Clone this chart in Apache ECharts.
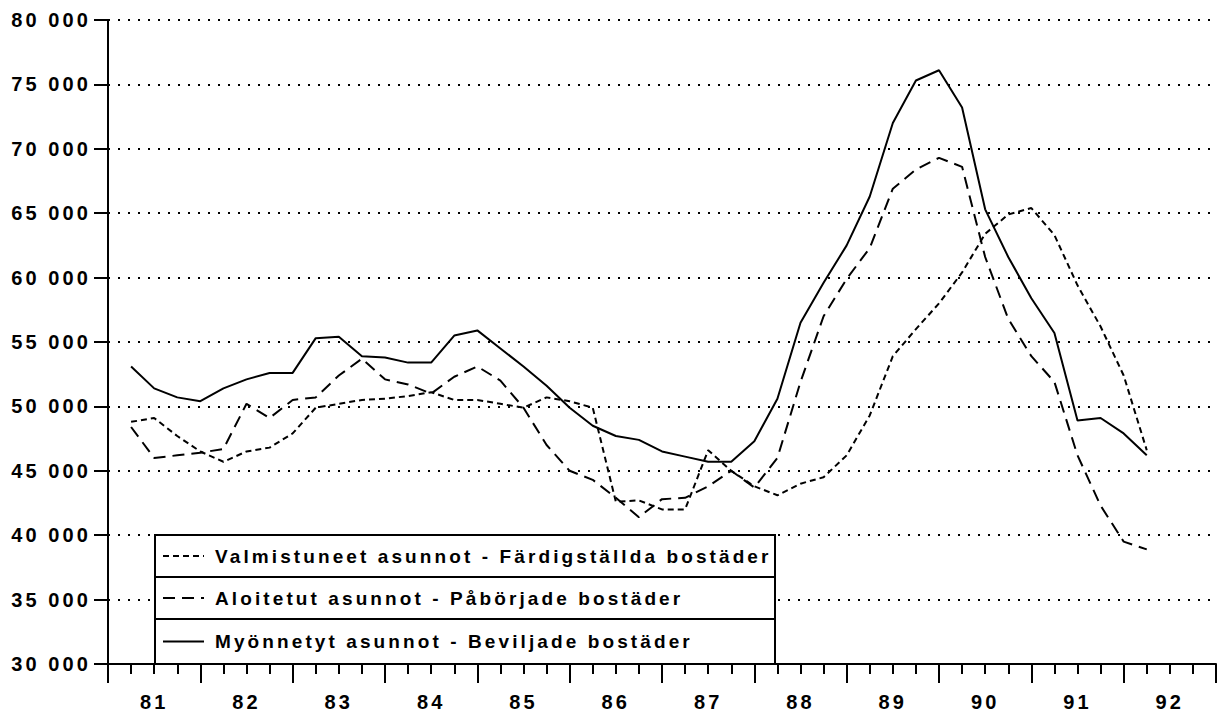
<!DOCTYPE html>
<html><head><meta charset="utf-8">
<script src="https://cdn.jsdelivr.net/npm/echarts@6/dist/echarts.min.js"></script>
<style>
html,body{margin:0;padding:0;background:#fff;}
#c{width:1219px;height:715px;}
#c text{letter-spacing:3.1px;}
</style></head><body><div id="c"></div>
<script>
// Quarterly values, 1981 Q1 .. 1992 Q1 (45 quarters)
const yearLabels = ['81','82','83','84','85','86','87','88','89','90','91','92'];
const valmistuneet = [48800,49100,47700,46500,45700,46500,46800,47900,49900,50200,
  50500,50600,50800,51100,50500,50500,50200,49900,50700,50400,
  49900,42600,42700,42000,42000,46600,45000,43800,43100,44000,
  44500,46200,49300,53900,56000,58000,60400,63400,64900,65400,
  63300,59400,56200,52400,46600];
const aloitetut = [48400,46000,46200,46400,46700,50200,49100,50500,50700,52400,
  53700,52100,51700,51000,52300,53100,52000,49900,47000,45000,
  44300,42900,41400,42800,42900,43800,45000,43700,46000,51900,
  57000,59900,62300,66900,68400,69300,68600,61600,56800,53900,
  51900,46200,42300,39500,38900];
const myonnetyt = [53100,51400,50700,50400,51400,52100,52600,52600,55300,55400,
  53900,53800,53400,53400,55500,55900,54500,53100,51600,49900,
  48500,47700,47400,46500,46100,45700,45700,47300,50600,56500,
  59600,62500,66300,72000,75300,76100,73200,65300,61600,58400,
  55700,48900,49100,47900,46200];
const seriesNames = [
  'Valmistuneet asunnot - Färdigställda bostäder',
  'Aloitetut asunnot - Påbörjade bostäder',
  'Myönnetyt asunnot - Beviljade bostäder'
];

const FONT = "'Liberation Sans', Arial, sans-serif";
const dashes = [[6,4],[12,7],'solid'];
const seriesValues = [valmistuneet, aloitetut, myonnetyt];
const toPairs = arr => arr.map((v,i) => [i+1, v]);

const chart = echarts.init(document.getElementById('c'), null, {renderer:'svg'});

const legendGraphics = [];
const rowTop = [535, 577, 619, 664];
legendGraphics.push({type:'rect', z:100, shape:{x:155,y:535,width:620,height:129},
  style:{fill:'#fff', stroke:'#000', lineWidth:2}});
[577,619].forEach(y => legendGraphics.push({type:'line', z:101,
  shape:{x1:155,y1:y,x2:775,y2:y}, style:{stroke:'#000', lineWidth:2}}));
seriesNames.forEach((name,i) => {
  const cy = (rowTop[i] + rowTop[i+1]) / 2;
  const d = dashes[i];
  legendGraphics.push({type:'line', z:102,
    shape:{x1:163,y1:cy,x2:204,y2:cy},
    style:{stroke:'#000', lineWidth:2, lineDash: Array.isArray(d) ? d : null}});
  legendGraphics.push({type:'text', z:102, x:215, y:cy,
    style:{text:name, fill:'#000', fontSize:19, fontWeight:'bold', fontFamily:FONT,
      verticalAlign:'middle', align:'left'}});
});

chart.setOption({
  animation:false,
  backgroundColor:'#fff',
  grid:{left:108, right:1, top:20, bottom:51, containLabel:false},
  xAxis:[{
    type:'value', min:0, max:48, interval:4,
    axisLine:{show:true, onZero:false, lineStyle:{color:'#000', width:2}},
    axisTick:{show:true, length:19, lineStyle:{color:'#000', width:2}},
    minorTick:{show:true, splitNumber:4, length:10, lineStyle:{color:'#000', width:2}},
    axisLabel:{show:false}, splitLine:{show:false}, minorSplitLine:{show:false}
  },{
    type:'value', min:0, max:48, interval:2, position:'bottom',
    axisLine:{show:false, onZero:false}, axisTick:{show:false},
    splitLine:{show:false},
    axisLabel:{margin:28, color:'#000', fontSize:20, fontWeight:'bold', fontFamily:FONT,
      formatter: v => (v % 4 === 2) ? yearLabels[(v - 2) / 4] : ''}
  }],
  yAxis:{
    type:'value', min:30000, max:80000, interval:5000,
    axisLine:{show:true, lineStyle:{color:'#000', width:2}},
    axisTick:{show:true, length:14, lineStyle:{color:'#000', width:2}},
    axisLabel:{margin:17, color:'#000', fontSize:20, fontWeight:'bold', fontFamily:FONT,
      formatter: v => (v/1000) + ' 000'},
    splitLine:{show:true, lineStyle:{color:'#000', width:2, type:[2,8]}}
  },
  series: seriesValues.map((vals,i) => ({
    name: seriesNames[i], type:'line', xAxisIndex:0, symbol:'none', z:5,
    data: toPairs(vals),
    lineStyle:{color:'#000', width:2, type: dashes[i]}
  })),
  graphic: legendGraphics
});
</script></body></html>
